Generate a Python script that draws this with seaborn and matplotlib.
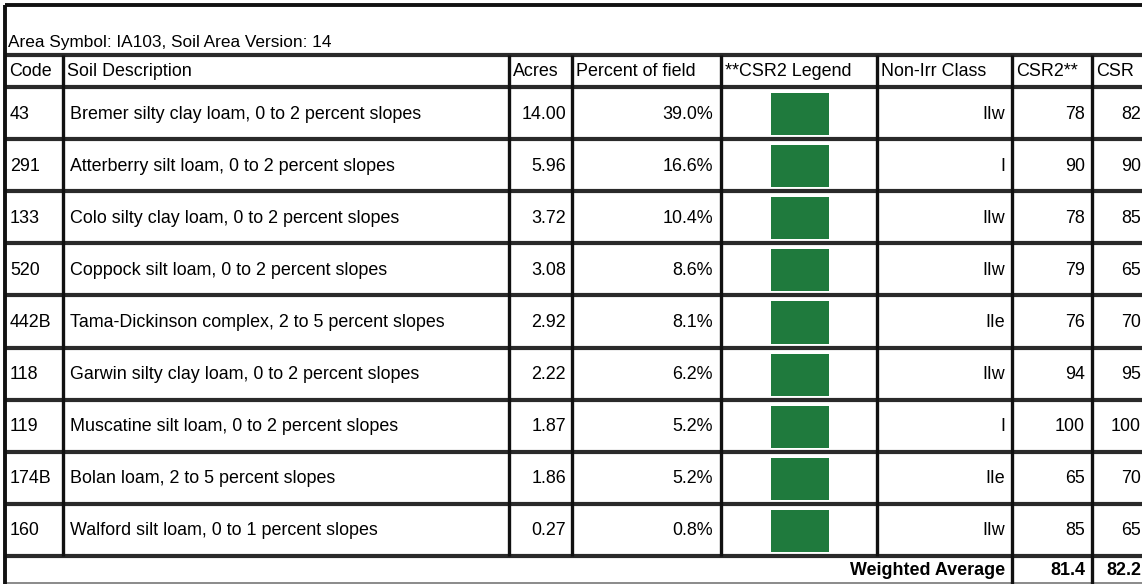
import matplotlib
matplotlib.use("Agg")
import matplotlib.pyplot as plt
import seaborn as sns
from matplotlib.patches import Rectangle

# ---- data ----
title = "Area Symbol: IA103, Soil Area Version: 14"
headers = ["Code", "Soil Description", "Acres", "Percent of field",
           "**CSR2 Legend", "Non-Irr Class", "CSR2**", "CSR"]
codes = ["43", "291", "133", "520", "442B", "118", "119", "174B", "160"]
descriptions = [
    "Bremer silty clay loam, 0 to 2 percent slopes",
    "Atterberry silt loam, 0 to 2 percent slopes",
    "Colo silty clay loam, 0 to 2 percent slopes",
    "Coppock silt loam, 0 to 2 percent slopes",
    "Tama-Dickinson complex, 2 to 5 percent slopes",
    "Garwin silty clay loam, 0 to 2 percent slopes",
    "Muscatine silt loam, 0 to 2 percent slopes",
    "Bolan loam, 2 to 5 percent slopes",
    "Walford silt loam, 0 to 1 percent slopes",
]
acres = [14.00, 5.96, 3.72, 3.08, 2.92, 2.22, 1.87, 1.86, 0.27]
percent = [39.0, 16.6, 10.4, 8.6, 8.1, 6.2, 5.2, 5.2, 0.8]
nonirr_class = ["IIw", "I", "IIw", "IIw", "IIe", "IIw", "I", "IIe", "IIw"]
csr2 = [78, 90, 78, 79, 76, 94, 100, 65, 85]
csr = [82, 90, 85, 65, 70, 95, 100, 70, 65]
weighted_label = "Weighted Average"
weighted_csr2 = 81.4
weighted_csr = 82.2

# ---- style ----
sns.set_theme(style="white")
plt.rcParams["font.family"] = ["Liberation Sans", "DejaVu Sans"]
plt.rcParams["text.color"] = "black"

W, H = 1142, 584
fig = plt.figure(figsize=(W / 100, H / 100), dpi=100)
ax = fig.add_axes([0, 0, 1, 1])
ax.set_xlim(0, W)
ax.set_ylim(H, 0)
ax.axis("off")
fig.patch.set_facecolor("white")

FS = 12.9
FS_TITLE = 12.4
green = "#1f7a3d"
line_col = "#111111"
hline_col = "#2a2a2a"

# layout
col_x = [5, 63, 509, 572, 721, 877, 1012, 1092, 1150]
top_y = 5
title_bottom = 55
header_bottom = 87
row_h = 52.1
n = len(codes)
rows_bottom = header_bottom + n * row_h
bottom_y = 583

# horizontal lines
ax.plot([col_x[0], W], [top_y, top_y], color=line_col, lw=2.8, solid_capstyle="butt")
for yy in [title_bottom, header_bottom] + [header_bottom + (i + 1) * row_h for i in range(n)]:
    ax.plot([col_x[0], W], [yy, yy], color=hline_col, lw=3.0, solid_capstyle="butt")
ax.plot([col_x[0], W], [bottom_y, bottom_y], color="#777777", lw=1.2)

# vertical lines
ax.plot([col_x[0], col_x[0]], [top_y, H], color=line_col, lw=2.8, solid_capstyle="butt")
for xx in col_x[1:6]:
    ax.plot([xx, xx], [title_bottom, rows_bottom], color=line_col, lw=2.4, solid_capstyle="butt")
for xx in col_x[6:8]:
    ax.plot([xx, xx], [title_bottom, H], color=line_col, lw=2.4, solid_capstyle="butt")

# title
ax.text(8, 43, title, fontsize=FS_TITLE, ha="left", va="center")

# header
hy = (title_bottom + header_bottom) / 2 + 1
for i, h in enumerate(headers):
    ax.text(col_x[i] + 4, hy, h, fontsize=FS, ha="left", va="center")

# rows
for i in range(n):
    y0 = header_bottom + i * row_h
    yc = y0 + row_h / 2 + 1
    ax.text(col_x[0] + 5, yc, codes[i], fontsize=FS, ha="left", va="center")
    ax.text(col_x[1] + 7, yc, descriptions[i], fontsize=FS, ha="left", va="center")
    ax.text(col_x[3] - 6, yc, f"{acres[i]:.2f}", fontsize=FS, ha="right", va="center")
    ax.text(col_x[4] - 8, yc, f"{percent[i]:.1f}%", fontsize=FS, ha="right", va="center")
    ax.add_patch(Rectangle((771, y0 + 6), 58, row_h - 10, facecolor=green, edgecolor="none"))
    ax.text(col_x[6] - 7, yc, nonirr_class[i], fontsize=FS, ha="right", va="center")
    ax.text(col_x[7] - 7, yc, f"{csr2[i]}", fontsize=FS, ha="right", va="center")
    ax.text(col_x[8] - 9, yc, f"{csr[i]}", fontsize=FS, ha="right", va="center")

# weighted average row
wy = rows_bottom + (H - rows_bottom) / 2 + 1
ax.text(col_x[6] - 7, wy, weighted_label, fontsize=FS, ha="right", va="center", fontweight="bold")
ax.text(col_x[7] - 7, wy, f"{weighted_csr2:.1f}", fontsize=FS, ha="right", va="center", fontweight="bold")
ax.text(col_x[8] - 9, wy, f"{weighted_csr:.1f}", fontsize=FS, ha="right", va="center", fontweight="bold")

fig.savefig("out.png", dpi=100, facecolor="white")
